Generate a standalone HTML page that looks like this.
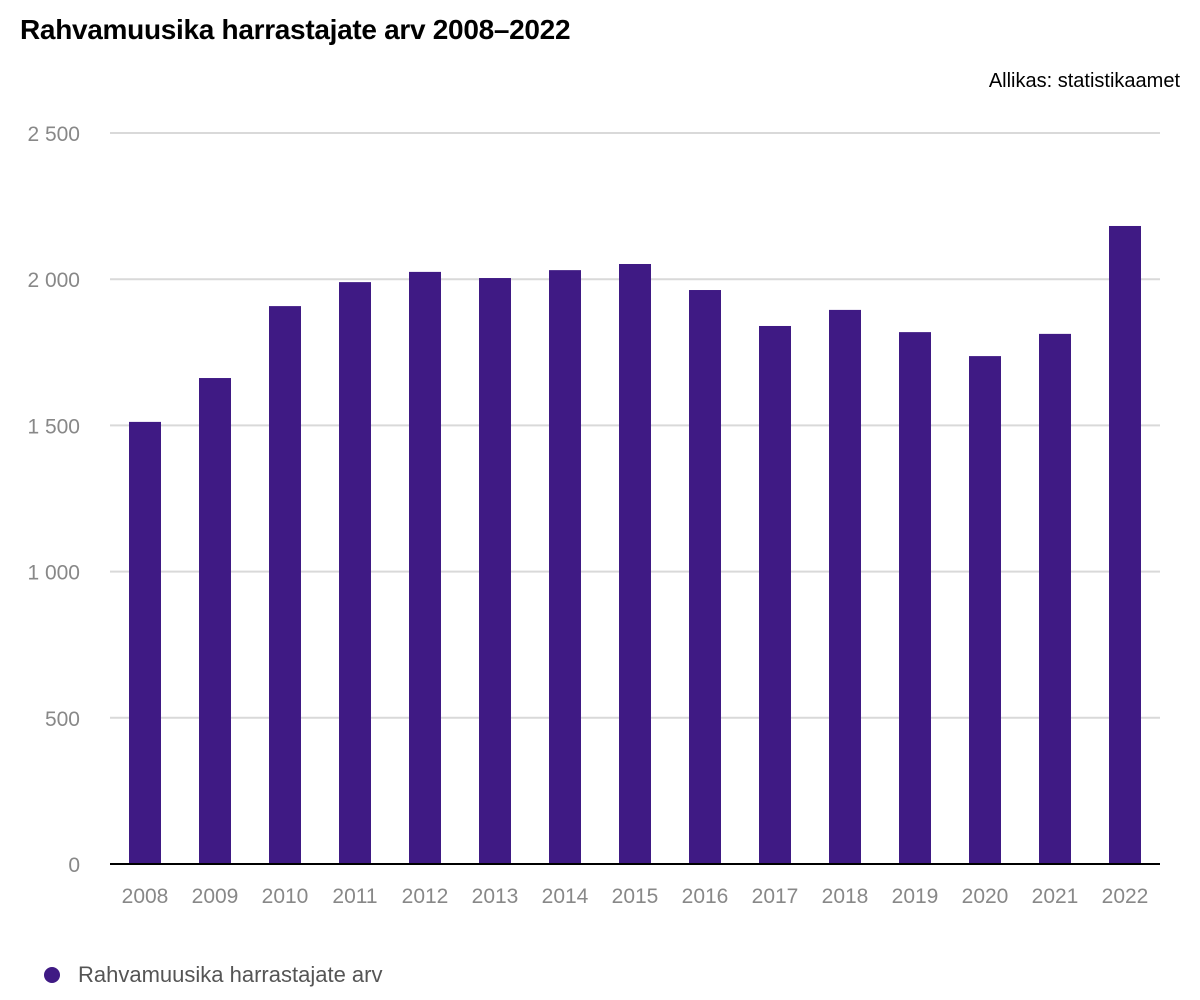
<!DOCTYPE html>
<html><head><meta charset="utf-8"><style>
body{margin:0;background:#fff;width:1200px;height:1000px;overflow:hidden;font-family:"Liberation Sans",sans-serif;}
#title{position:absolute;left:20px;top:14px;font-size:28px;font-weight:bold;color:#000;letter-spacing:-0.3px}
#source{position:absolute;right:20px;top:70px;font-size:20px;color:#000}
#legend{position:absolute;left:44px;top:962px;font-size:22px;color:#555;display:flex;align-items:center}
#legend span.dot{display:inline-block;width:16px;height:16px;border-radius:50%;background:#3f1a84;margin-right:18px}
svg{position:absolute;left:0;top:0}
</style></head><body>
<div id="title">Rahvamuusika harrastajate arv 2008–2022</div>
<div id="source">Allikas: statistikaamet</div>
<svg id="chart" width="1200" height="1000"></svg>
<div id="legend"><span class="dot"></span>Rahvamuusika harrastajate arv</div>
<script>
const years=["2008","2009","2010","2011","2012","2013","2014","2015","2016","2017","2018","2019","2020","2021","2022"];
const values=[1512,1662,1908,1990,2025,2004,2031,2052,1963,1840,1895,1819,1737,1813,2182];
const yTicks=[0,500,1000,1500,2000,2500];
const yTickLabels=["0","500","1 000","1 500","2 000","2 500"];
const svg=document.getElementById('chart');
const NS='http://www.w3.org/2000/svg';
const x0=110,x1=1160,yb=864,yt=133,maxV=2500;
const band=(x1-x0)/years.length;
function y(v){return yb-(v/maxV)*(yb-yt);}
function xc(i){return x0+band*(i+0.5);}
function mk(t,a){const e=document.createElementNS(NS,t);for(const k in a)e.setAttribute(k,a[k]);svg.appendChild(e);return e;}
yTicks.forEach((t,i)=>{
 if(t>0){const g=mk('line',{x1:x0,x2:x1,y1:y(t),y2:y(t),stroke:'#d9d9d9','stroke-width':2});
 
 }
 const l=mk('text',{x:80,y:y(t)+8,'text-anchor':'end','font-size':21,fill:'#888','font-family':'Liberation Sans, sans-serif'});
 l.textContent=yTickLabels[i];
 
 
});
values.forEach((v,i)=>{
 const r=mk('rect',{x:xc(i)-16,y:y(v),width:32,height:yb-y(v),fill:'#3f1a84'});
 
 
 const l=mk('text',{x:xc(i),y:903,'text-anchor':'middle','font-size':21,fill:'#888','font-family':'Liberation Sans, sans-serif'});
 l.textContent=years[i];
 
 
});
const ax=mk('line',{x1:x0,x2:x1,y1:yb,y2:yb,stroke:'#000','stroke-width':2});


</script>
</body></html>
